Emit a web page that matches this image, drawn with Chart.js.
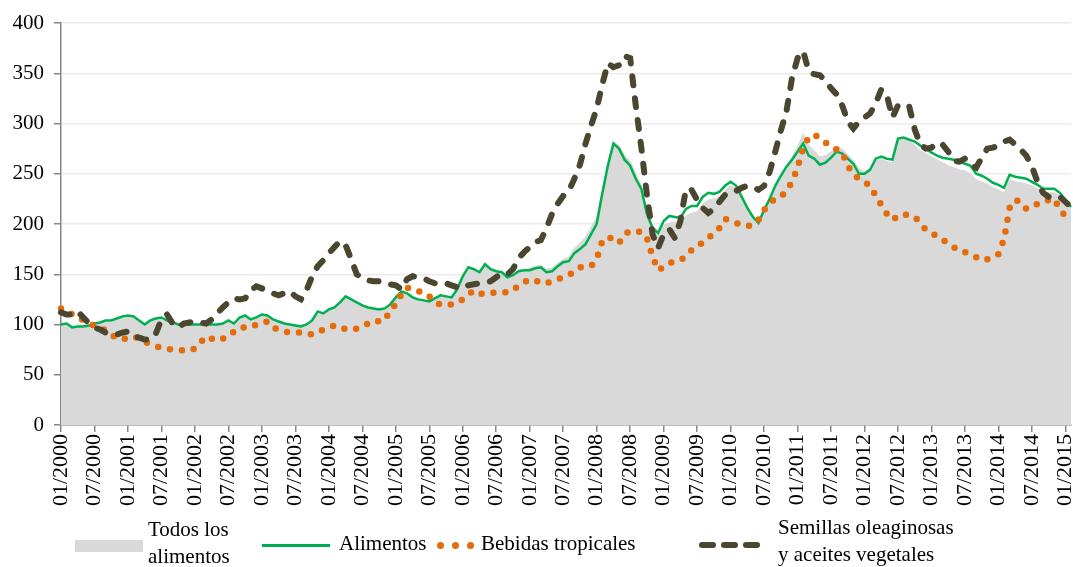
<!DOCTYPE html>
<html>
<head>
<meta charset="utf-8">
<script src="https://cdn.jsdelivr.net/npm/chart.js@4.4.0/dist/chart.umd.min.js"></script>
<style>
body { margin: 0; background: #fff; }
#caja { position: relative; width: 1073px; height: 567px; font-family: "Liberation Serif", "Times New Roman", serif; font-size: 21px; color: #000; }
#grafico { position: absolute; left: 0; top: 0; }
.ley { position: absolute; line-height: 27px; white-space: nowrap; }
.sw { position: absolute; }
.punto { position: absolute; width: 7px; height: 7px; border-radius: 50%; background: #e46c0a; }
.raya { position: absolute; width: 17px; height: 6px; border-radius: 3px; background: #4b4630; }
</style>
</head>
<body>
<div id="caja">
  <canvas id="grafico" width="1073" height="567"></canvas>

  <!-- leyenda -->
  <div class="sw" style="left:75px;top:540px;width:68px;height:12px;background:#d9d9d9"></div>
  <div class="ley" style="left:148px;top:516px">Todos los<br>alimentos</div>

  <div class="sw" style="left:262px;top:544px;width:68px;height:3px;background:#00b050"></div>
  <div class="ley" style="left:339px;top:530px">Alimentos</div>

  <div class="punto" style="left:437px;top:542px"></div>
  <div class="punto" style="left:452px;top:542px"></div>
  <div class="punto" style="left:467px;top:542px"></div>
  <div class="ley" style="left:481px;top:530px">Bebidas tropicales</div>

  <div class="raya" style="left:699px;top:542px"></div>
  <div class="raya" style="left:721px;top:542px"></div>
  <div class="raya" style="left:743px;top:542px"></div>
  <div class="ley" style="left:778px;top:514px">Semillas oleaginosas<br>y aceites vegetales</div>
</div>

<script>
// Indices de precios de productos basicos, 2000 = 100 (mensual, 01/2000 - 02/2015)

const anioInicio = 2000
const numMeses = 182

// Todos los alimentos (area gris)
const todos = [
    99, 100, 97, 97, 97, 98, 100, 101, 102, 102, 104, 106,        // 2000
    107, 106, 102, 99, 102, 104, 105, 103, 101, 99, 99, 99,       // 2001
    99, 99, 99, 99, 99, 100, 103, 100, 106, 108, 104, 106,        // 2002
    109, 108, 104, 102, 100, 99, 98, 97, 99, 103, 112, 111,       // 2003
    115, 117, 121, 127, 124, 121, 118, 117, 116, 115, 115, 119,   // 2004
    125, 131, 130, 126, 124, 123, 122, 124, 128, 127, 126, 133,   // 2005
    147, 156, 154, 151, 158, 155, 153, 151, 147, 149, 152, 154,   // 2006
    156, 158, 159, 155, 156, 161, 165, 167, 176, 181, 187, 197,   // 2007
    207, 234, 262, 282, 278, 268, 263, 250, 238, 215, 199, 192,   // 2008
    199, 201, 202, 202, 208, 211, 212, 220, 224, 225, 227, 233,   // 2009
    238, 236, 227, 217, 208, 202, 212, 223, 237, 247, 256, 266,   // 2010
    277, 290, 278, 273, 267, 268, 272, 277, 275, 269, 263, 255,   // 2011
    252, 255, 263, 265, 262, 261, 283, 286, 283, 278, 273, 270,   // 2012
    267, 264, 261, 258, 256, 254, 253, 250, 244, 242, 240, 236,   // 2013
    234, 231, 244, 242, 241, 240, 238, 235, 231, 231, 231, 228,   // 2014
    221, 215                                                      // 2015
]

// Alimentos (linea verde)
const alimentos = [
    100, 101, 97, 98, 98, 99, 101, 102, 104, 104, 106, 108,
    109, 108, 104, 100, 104, 106, 107, 104, 102, 100, 100, 100,
    100, 100, 100, 100, 100, 101, 104, 101, 107, 109, 105, 107,
    110, 109, 105, 103, 101, 100, 99, 98, 100, 104, 113, 111,
    115, 117, 122, 128, 125, 122, 119, 117, 116, 115, 116, 120,
    127, 133, 131, 127, 125, 124, 123, 126, 129, 128, 127, 135,
    148, 157, 155, 152, 160, 155, 153, 152, 147, 149, 153, 154,
    154, 156, 157, 152, 153, 158, 162, 163, 171, 175, 180, 190,
    200, 230, 258, 280, 275, 264, 258, 245, 235, 210, 196, 191,
    203, 208, 207, 206, 215, 218, 218, 227, 231, 230, 232, 238,
    242, 238, 227, 216, 207, 201, 214, 225, 238, 248, 257, 264,
    272, 280, 268, 265, 259, 261, 266, 272, 270, 265, 260, 250,
    250, 254, 265, 267, 265, 264, 285, 286, 284, 282, 278, 275,
    271, 268, 266, 265, 264, 262, 260, 258, 250, 248, 245, 241,
    239, 236, 249, 247, 246, 245, 242, 239, 235, 235, 235, 231,
    224, 217
]

// Bebidas tropicales (puntos naranjas)
const bebidas = [
    116, 113, 110, 108, 104, 101, 99, 97, 94, 90, 86, 85,
    87, 88, 86, 83, 80, 78, 77, 76, 75, 75, 74, 74,
    76, 82, 88, 86, 84, 86, 88, 93, 97, 97, 97, 100,
    102, 103, 97, 95, 93, 92, 92, 92, 91, 90, 92, 95,
    97, 99, 98, 95, 95, 96, 98, 101, 104, 103, 104, 114,
    120, 130, 137, 134, 133, 132, 128, 122, 120, 119, 120, 122,
    125, 130, 134, 131, 130, 131, 132, 132, 132, 134, 139, 142,
    145, 144, 141, 141, 143, 145, 147, 149, 153, 157, 157, 158,
    165, 183, 187, 185, 181, 190, 193, 193, 192, 186, 168, 154,
    157, 161, 163, 164, 168, 174, 177, 182, 186, 191, 196, 205,
    203, 201, 199, 198, 199, 204, 214, 221, 225, 227, 233, 242,
    256, 276, 286, 289, 285, 281, 278, 274, 271, 258, 249, 245,
    242, 238, 228, 219, 210, 204, 208, 210, 208, 207, 201, 194,
    191, 188, 184, 181, 177, 173, 172, 170, 167, 164, 165, 167,
    170, 185, 216, 224, 222, 215, 217, 220, 222, 224, 225, 214,
    208, 205
]

// Semillas oleaginosas y aceites vegetales (rayas oscuras)
const semillas = [
    112, 110, 110, 113, 107, 101, 97, 95, 92, 91, 90, 92,
    93, 88, 87, 85, 85, 91, 105, 110, 101, 97, 101, 102,
    103, 102, 101, 105, 111, 117, 122, 126, 125, 126, 134, 138,
    136, 133, 131, 129, 131, 133, 128, 125, 134, 148, 158, 164,
    171, 177, 183, 179, 165, 150, 146, 144, 143, 143, 141, 140,
    139, 135, 145, 148, 147, 146, 143, 141, 141, 141, 139, 137,
    136, 139, 140, 141, 142, 143, 147, 151, 150, 155, 166, 172,
    177, 182, 184, 196, 210, 220, 228, 233, 245, 259, 280, 298,
    315, 339, 360, 356, 358, 367, 365, 318, 276, 229, 190, 176,
    190, 195, 186, 203, 235, 234, 224, 216, 211, 215, 222, 229,
    232, 233, 236, 238, 237, 234, 238, 252, 272, 293, 312, 345,
    365, 372, 352, 349, 348, 342, 335, 329, 318, 302, 295, 302,
    306, 310, 320, 334, 328, 306, 318, 319, 317, 294, 279, 275,
    276, 281, 279, 272, 263, 262, 265, 259, 256, 266, 275, 276,
    278, 282, 284, 279, 274, 268, 257, 242, 231, 227, 226, 227,
    222, 217
]

// eje y
const yMin = 0
const yMax = 400
const yPaso = 50

// etiquetas mes/anio
let etiquetas = []
for (let i = 0; i < numMeses; i++) {
    let mes = (i % 12) + 1
    let anio = anioInicio + Math.floor(i / 12)
    etiquetas.push((mes < 10 ? "0" : "") + mes + "/" + anio)
}

const fuenteY = { family: "'Liberation Serif', 'Times New Roman', serif", size: 21 }
const fuenteX = { family: "'Liberation Serif', 'Times New Roman', serif", size: 22 }
const gris = "#868686"

let ctx = document.getElementById("grafico").getContext("2d")

let grafico = new Chart(ctx, {
    type: "line",
    data: {
        labels: etiquetas,
        datasets: [
            {
                label: "Semillas oleaginosas y aceites vegetales",
                data: semillas,
                borderColor: "#4b4630",
                borderWidth: 6,
                borderDash: [9, 13],
                borderCapStyle: "round",
                fill: false,
                order: 0
            },
            {
                label: "Bebidas tropicales",
                data: bebidas,
                borderColor: "#e46c0a",
                borderWidth: 6.5,
                borderDash: [0, 12],
                borderCapStyle: "round",
                fill: false,
                order: 1
            },
            {
                label: "Alimentos",
                data: alimentos,
                borderColor: "#00b050",
                borderWidth: 2.5,
                fill: false,
                order: 2
            },
            {
                label: "Todos los alimentos",
                data: todos,
                borderColor: "#d9d9d9",
                backgroundColor: "#d9d9d9",
                borderWidth: 1,
                fill: "origin",
                order: 3
            }
        ]
    },
    options: {
        responsive: false,
        animation: false,
        devicePixelRatio: 1,
        layout: { padding: { top: 23, right: 2, bottom: 52, left: 0 } },
        plugins: {
            legend: { display: false },
            tooltip: { enabled: false }
        },
        elements: {
            point: { radius: 0 },
            line: { tension: 0 }
        },
        scales: {
            x: {
                grid: { drawOnChartArea: false, tickLength: 7, color: gris, lineWidth: 1.5 },
                border: { color: gris, width: 1.5 },
                ticks: {
                    autoSkip: false,
                    minRotation: 90,
                    maxRotation: 90,
                    padding: 2,
                    color: "#000",
                    font: fuenteX,
                    callback: function (valor, i) {
                        // solo enero y julio
                        return i % 6 === 0 ? this.getLabelForValue(valor) : null
                    }
                },
                afterFit: (escala) => {
                    escala.height = 90
                    // sin margen extra a los lados por las etiquetas
                    escala.paddingLeft = 0
                    escala.paddingRight = 0
                }
            },
            y: {
                min: yMin,
                max: yMax,
                grid: { color: "#ebebeb", lineWidth: 1.5, tickColor: gris, tickLength: 7 },
                border: { color: gris, width: 1.5 },
                ticks: { stepSize: yPaso, padding: 10, color: "#000", font: fuenteY },
                afterFit: (escala) => { escala.width = 61 }
            }
        }
    }
})
</script>
</body>
</html>
